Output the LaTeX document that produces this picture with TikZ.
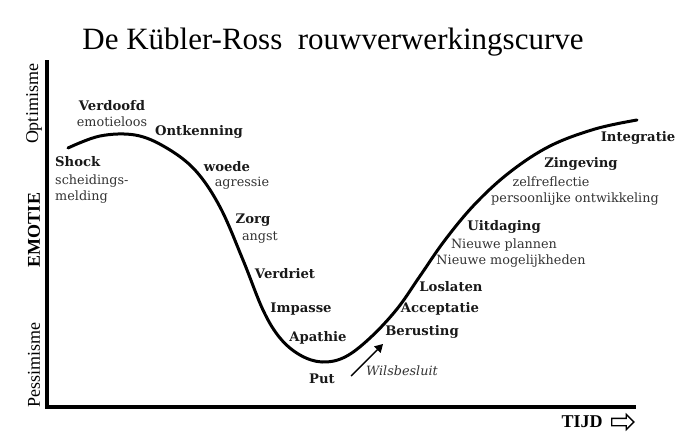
\documentclass[tikz,border=0pt]{standalone}
\usepackage{fontspec}
\setmainfont{Liberation Serif}
\newfontfamily\labelfont{DejaVu Serif}
\usetikzlibrary{arrows.meta,shapes.arrows}

\begin{document}
\begin{tikzpicture}[
    x=1pt, y=-1pt,
    >=Stealth,
    titel/.style={
        font=\fontsize{31}{31}\selectfont
    },
    as/.style={
        line width=4pt,
        line cap=rect
    },
    aslabel/.style={
        font=\fontsize{18}{18}\selectfont,
        rotate=90
    },
    fase/.style={
        font=\labelfont\bfseries\fontsize{13.2}{15}\selectfont,
        text=black!90
    },
    sub/.style={
        font=\labelfont\fontsize{12.8}{15}\selectfont,
        text=black!80
    },
    curve/.style={
        line width=3pt,
        line cap=round
    },
    pijl/.style={
        -{Triangle[width=9pt,length=8pt]},
        line width=1.4pt
    }
]

% Canvas
\useasboundingbox (0,0) rectangle (700,441);

% Title
\node[titel] (title) at (333,42) {De Kübler-Ross\ \ rouwverwerkingscurve};

% Axes
\coordinate (origin) at (47,407);
\coordinate (ytop) at (47,62);
\coordinate (xend) at (634,407);
\draw[as] (ytop) -- (origin) -- (xend);

\node[aslabel] (optimisme) at (34,104) {Optimisme};
\node[aslabel, font=\bfseries\fontsize{18}{18}\selectfont] (emotie) at (34,230) {EMOTIE};
\node[aslabel] (pessimisme) at (34,365) {Pessimisme};

\node[font=\bfseries\fontsize{18}{18}\selectfont] (tijd) at (582,422) {TIJD};
\node[single arrow, draw, line width=1.3pt, minimum height=22pt,
      inner sep=3pt, single arrow head extend=4pt] (tijdpijl) at (621,422) {};

% The curve
\draw[curve] plot[smooth, tension=0.6] coordinates {
    (68,148) (100,136) (135,135) (165,147) (195,170) (220,207) (243,260)
    (263,310) (280,338) (300,355) (322,362) (345,357) (370,338) (397,309)
    (420,276) (445,240) (475,204) (510,172) (550,146) (595,129) (637,120)
};

% Phases (bold)
\foreach \naam/\x/\y/\tekst in {
    verdoofd/112/106/Verdoofd,
    ontkenning/199/132/Ontkenning,
    woede/227/167/woede,
    zorg/253/220/Zorg,
    verdriet/285/274/Verdriet,
    impasse/301/309/Impasse,
    apathie/318/338/Apathie,
    put/322/379/Put,
    berusting/422/332/Berusting,
    acceptatie/440/309/Acceptatie,
    loslaten/451/287/Loslaten,
    uitdaging/504/227/Uitdaging,
    zingeving/581/164/Zingeving,
    integratie/638/138/Integratie} {
    \node[fase] (\naam) at (\x,\y) {\tekst};
}

% Shock block
\node[fase, anchor=west, inner xsep=0pt] (shock) at (55,162) {Shock};
\node[sub, anchor=west, inner xsep=0pt] (scheidings) at (55,181) {scheidings-};
\node[sub, anchor=west, inner xsep=0pt] (melding) at (55,197) {melding};

% Sub labels
\node[sub] (emotieloos) at (112,122) {emotieloos};
\node[sub] (agressie) at (242,183) {agressie};
\node[sub] (angst) at (260,238) {angst};
\node[sub] (plannen) at (504,245) {Nieuwe plannen};
\node[sub] (mogelijk) at (511,261) {Nieuwe mogelijkheden};
\node[sub] (zelf) at (551,182) {zelfreflectie};
\node[sub] (persoonlijk) at (575,199) {persoonlijke ontwikkeling};

% Wilsbesluit
\node[sub, font=\labelfont\itshape\fontsize{12.8}{15}\selectfont] (wils) at (402,371) {Wilsbesluit};
\coordinate (wstart) at (351,376);
\coordinate (wend) at (383,344);
\draw[pijl] (wstart) -- (wend);

\end{tikzpicture}
\end{document}
